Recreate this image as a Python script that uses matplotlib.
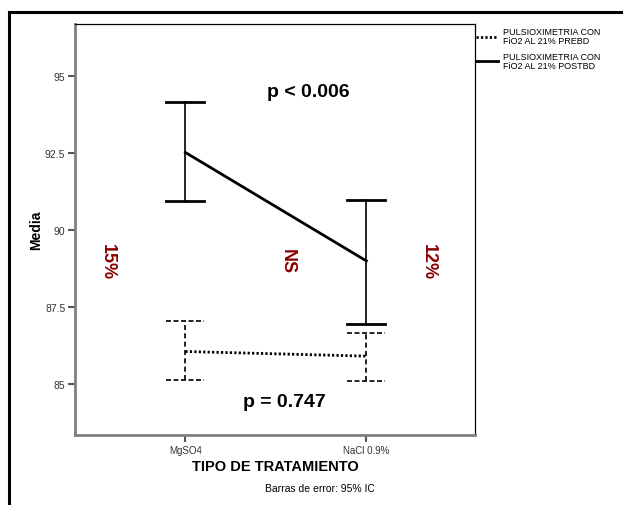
import matplotlib
matplotlib.use('Agg')
import matplotlib.pyplot as plt
from matplotlib.lines import Line2D

# Medias e intervalos de confianza al 95%
tratamientos = ['MgSO4', 'NaCl 0.9%']
media_prebd = [86.05, 85.90]
ic_inf_prebd = [85.11, 85.09]
ic_sup_prebd = [87.05, 86.65]
media_postbd = [92.51, 88.99]
ic_inf_postbd = [90.94, 86.94]
ic_sup_postbd = [94.14, 90.97]
yticks = [85, 87.5, 90, 92.5, 95]
ytick_labels = ['85', '87.5', '90', '92.5', '95']

W, H = 623, 506
fig = plt.figure(figsize=(W / 100, H / 100), dpi=100)
plt.rcParams['font.family'] = ['Liberation Sans', 'DejaVu Sans']

ax = fig.add_axes([75 / W, (H - 436) / H, 400 / W, 411 / H])
x = [0, 1]

def barras(media, inf, sup, solida):
    if solida:
        ax.plot(x, media, color='black', linewidth=2.0)
    else:
        ax.plot(x, media, color='black', linewidth=2.0, linestyle='--', dashes=(0.8, 0.8))
    for xi, lo, hi in zip(x, inf, sup):
        if solida:
            ax.plot([xi, xi], [lo, hi], color='black', linewidth=1.2)
        else:
            ax.plot([xi, xi], [lo, hi], color='black', linewidth=1.2,
                    linestyle='--', dashes=(3, 2))
        for yv in (lo, hi):
            if solida:
                ax.plot([xi - 0.105, xi + 0.105], [yv, yv], color='black', linewidth=2.0)
            else:
                ax.plot([xi - 0.105, xi + 0.105], [yv, yv], color='black', linewidth=1.2,
                        linestyle='--', dashes=(3, 1.5))

barras(media_prebd, ic_inf_prebd, ic_sup_prebd, False)
barras(media_postbd, ic_inf_postbd, ic_sup_postbd, True)

ax.set_xlim(-0.61, 1.60)
ax.set_ylim(83.34, 96.68)
ax.set_xticks(x)
ax.set_xticklabels(tratamientos, fontsize=7, color='#333333')
ax.set_yticks(yticks)
ax.set_yticklabels(ytick_labels, fontsize=7.5, color='#333333')
ax.tick_params(axis='both', length=5, width=1.5, color='#555555', pad=2)
for s in ('left', 'bottom'):
    ax.spines[s].set_color('#7f7f7f')
    ax.spines[s].set_linewidth(2)
for s in ('top', 'right'):
    ax.spines[s].set_color('black')
    ax.spines[s].set_linewidth(0.9)

ax.set_ylabel('Media', fontsize=10, fontweight='bold', labelpad=1)
ax.set_xlabel('TIPO DE TRATAMIENTO', fontsize=10.5, fontweight='bold', labelpad=3)

# Anotaciones
ax.text(0.68, 95.0 - (92 - 76.7) / 30.8, 'p < 0.006', fontsize=14, fontweight='bold',
        ha='center', va='center')
ax.text(0.545, 85 - (403 - 385) / 30.8, 'p = 0.747', fontsize=14, fontweight='bold',
        ha='center', va='center')
rojo = '#8b0000'
ax.text(-0.43, 89.0, '15%', fontsize=13, fontweight='bold', color=rojo,
        rotation=270, ha='center', va='center')
ax.text(0.56, 89.0, 'NS', fontsize=13, fontweight='bold', color=rojo,
        rotation=270, ha='center', va='center')
ax.text(1.34, 89.0, '12%', fontsize=13, fontweight='bold', color=rojo,
        rotation=270, ha='center', va='center')

fig.text(320 / W, 1 - 489 / H, 'Barras de error: 95% IC', fontsize=7.5,
         ha='center', va='center')

# Leyenda
fig.add_artist(Line2D([476 / W, 498 / W], [1 - 38 / H, 1 - 38 / H], color='black',
                      linestyle='--', dashes=(0.8, 0.8), linewidth=2,
                      transform=fig.transFigure))
fig.add_artist(Line2D([476 / W, 498 / W], [1 - 62 / H, 1 - 62 / H], color='black',
                      linestyle='-', linewidth=2, transform=fig.transFigure))
fig.text(503 / W, 1 - 37 / H, 'PULSIOXIMETRIA CON\nFiO2 AL 21% PREBD', fontsize=6.5,
         ha='left', va='center', linespacing=1.0)
fig.text(503 / W, 1 - 62 / H, 'PULSIOXIMETRIA CON\nFiO2 AL 21% POSTBD', fontsize=6.5,
         ha='left', va='center', linespacing=1.0)

# Marco exterior
fig.add_artist(Line2D([9 / W, 9 / W], [0, 1 - 12.5 / H], color='black', linewidth=2.2,
                      transform=fig.transFigure))
fig.add_artist(Line2D([9 / W, 1], [1 - 12.5 / H, 1 - 12.5 / H], color='black', linewidth=2.2,
                      transform=fig.transFigure))

fig.savefig('out.png', dpi=100)
